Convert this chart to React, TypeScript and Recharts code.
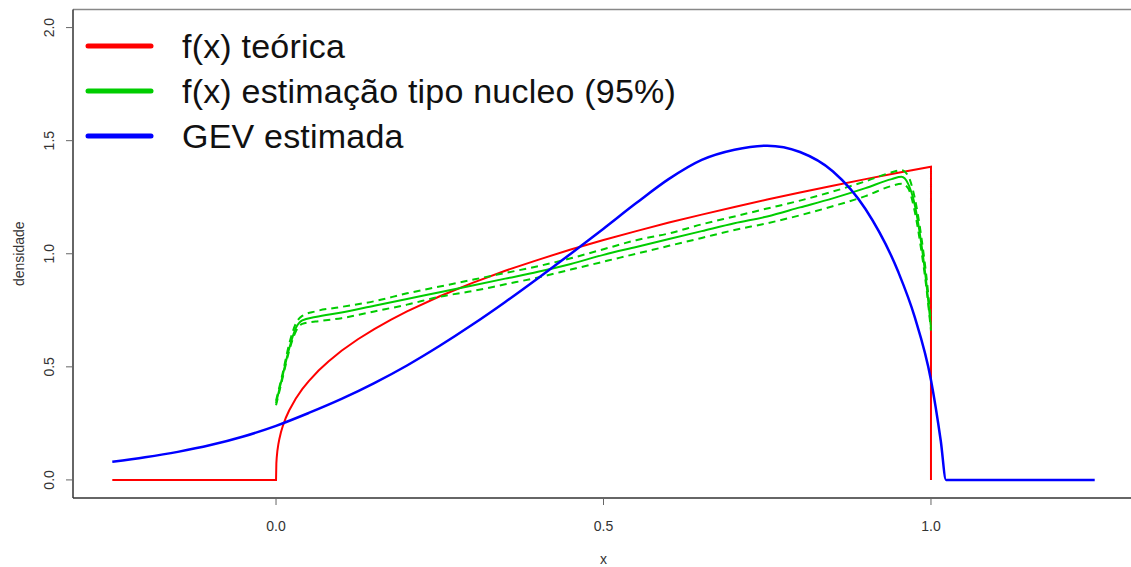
import React from 'react';
import { LineChart, Line, XAxis, YAxis, ReferenceLine } from 'recharts';

const FONT = '"Liberation Sans", Arial, Helvetica, sans-serif';

// axis ticks
const xTicks = [0, 0.5, 1];
const yTicks = [0, 0.5, 1, 1.5, 2];

// f(x) teórica (jumps at 0 and 1)
const teoricaX = [
  -0.25, 0, 0.0005, 0.001, 0.002, 0.0035, 0.005, 0.0075, 0.01, 0.015, 0.02, 0.03, 0.04, 0.05, 0.065, 0.08,
  0.1, 0.125, 0.15, 0.175, 0.2, 0.25, 0.3, 0.35, 0.4, 0.45, 0.5, 0.55, 0.6, 0.65, 0.7, 0.75, 0.8, 0.85,
  0.9, 0.95, 1.0, 1.0,
];
const teoricaY = [
  0, 0, 0.074, 0.097, 0.127, 0.157, 0.18, 0.211, 0.235, 0.275, 0.307, 0.359, 0.401, 0.437, 0.484, 0.524,
  0.571, 0.622, 0.667, 0.708, 0.745, 0.812, 0.871, 0.925, 0.973, 1.019, 1.061, 1.1, 1.138, 1.173, 1.207, 1.24, 1.271, 1.301,
  1.33, 1.358, 1.385, 0,
];

// GEV estimada
const gevX = [
  -0.25, -0.2, -0.15, -0.1, -0.05, 0, 0.05, 0.1, 0.15, 0.2, 0.25, 0.3, 0.35, 0.4, 0.45, 0.5, 0.55, 0.6,
  0.65, 0.7, 0.75, 0.8, 0.85, 0.9, 0.95, 0.975, 1.0, 1.015, 1.023, 1.25,
];
const gevY = [
  0.08, 0.1, 0.124, 0.154, 0.192, 0.239, 0.296, 0.358, 0.428, 0.506, 0.593, 0.687, 0.787, 0.892, 1.0, 1.111, 1.224, 1.331,
  1.415, 1.46, 1.478, 1.45, 1.365, 1.198, 0.92, 0.722, 0.442, 0.172, 0, 0,
];

// estimação tipo núcleo + banda de 95%
const kernelX = [0, 0.01, 0.02, 0.03, 0.04, 0.06, 0.1, 0.15, 0.2, 0.25, 0.3, 0.35, 0.4, 0.45, 0.5, 0.55, 0.6, 0.65, 0.7, 0.75, 0.8, 0.85, 0.9, 0.94, 0.955, 0.965, 0.975, 0.985, 0.993, 1.0];
const kernelY = [0.34, 0.46, 0.58, 0.67, 0.705, 0.72, 0.74, 0.77, 0.8, 0.83, 0.86, 0.89, 0.92, 0.955, 0.995, 1.03, 1.065, 1.1, 1.135, 1.165, 1.205, 1.245, 1.29, 1.33, 1.34, 1.31, 1.22, 1.05, 0.87, 0.675];
const kernelUpper = [0.35, 0.47, 0.6, 0.69, 0.725, 0.745, 0.765, 0.79, 0.825, 0.855, 0.885, 0.915, 0.945, 0.98, 1.02, 1.06, 1.09, 1.13, 1.165, 1.2, 1.235, 1.275, 1.32, 1.36, 1.37, 1.345, 1.25, 1.08, 0.9, 0.7];
const kernelLower = [0.33, 0.45, 0.57, 0.655, 0.69, 0.7, 0.715, 0.745, 0.775, 0.81, 0.835, 0.865, 0.895, 0.93, 0.965, 1.0, 1.035, 1.07, 1.105, 1.135, 1.17, 1.21, 1.255, 1.3, 1.31, 1.29, 1.19, 1.02, 0.85, 0.66];

const toPoints = (xs: number[], ys: number[]) => xs.map((x, i) => ({ x, y: ys[i] }));

const teorica = toPoints(teoricaX, teoricaY);
const gev = toPoints(gevX, gevY);
const kernel = toPoints(kernelX, kernelY);
const upper = toPoints(kernelX, kernelUpper);
const lower = toPoints(kernelX, kernelLower);

const legendItems = [
  { label: 'f(x) teórica', color: '#ff0000' },
  { label: 'f(x) estimação tipo nucleo (95%)', color: '#00cd00' },
  { label: 'GEV estimada', color: '#0000ff' },
];

const XTick = (props: any) => {
  const { x, payload } = props;
  return (
    <text x={x} y={531} textAnchor="middle" fontSize={14} fontFamily={FONT} fill="#333">
      {Number(payload.value).toFixed(1)}
    </text>
  );
};

const YTick = (props: any) => {
  const { y, payload } = props;
  return (
    <text
      transform={`translate(54, ${y}) rotate(-90)`}
      textAnchor="middle"
      fontSize={14}
      fontFamily={FONT}
      fill="#333"
    >
      {Number(payload.value).toFixed(1)}
    </text>
  );
};

export default function App() {
  return (
    <div
      style={{
        position: 'fixed',
        left: 0,
        top: 0,
        width: 1131,
        height: 567,
        overflow: 'hidden',
        background: '#fff',
      }}
    >
      <LineChart width={1140} height={567} margin={{ top: 9.5, right: 6, bottom: 9, left: 0 }}>
        <XAxis
          type="number"
          dataKey="x"
          domain={[-0.31, 1.31]}
          allowDataOverflow
          ticks={xTicks}
          tick={<XTick />}
          tickSize={7}
          tickLine={{ stroke: '#666' }}
          axisLine={{ stroke: '#333', strokeWidth: 1.5 }}
          height={60}
        />
        <YAxis
          type="number"
          dataKey="y"
          domain={[-0.08, 2.08]}
          allowDataOverflow
          ticks={yTicks}
          tick={<YTick />}
          tickSize={7}
          tickLine={{ stroke: '#666' }}
          axisLine={{ stroke: '#333', strokeWidth: 1.5 }}
          width={73}
        />
        <ReferenceLine y={2.08} stroke="#888" strokeWidth={1.5} ifOverflow="visible" />
        <Line data={teorica} dataKey="y" stroke="#ff0000" strokeWidth={2} dot={false} activeDot={false} isAnimationActive={false} />
        <Line data={kernel} type="monotone" dataKey="y" stroke="#00cd00" strokeWidth={2} dot={false} activeDot={false} isAnimationActive={false} />
        <Line data={upper} type="monotone" dataKey="y" stroke="#00cd00" strokeWidth={2} strokeDasharray="7 5" dot={false} activeDot={false} isAnimationActive={false} />
        <Line data={lower} type="monotone" dataKey="y" stroke="#00cd00" strokeWidth={2} strokeDasharray="7 5" dot={false} activeDot={false} isAnimationActive={false} />
        <Line data={gev} type="monotone" dataKey="y" stroke="#0000ff" strokeWidth={2.5} dot={false} activeDot={false} isAnimationActive={false} />
      </LineChart>

      {/* legend and axis titles */}
      <svg
        width={1131}
        height={567}
        style={{ position: 'absolute', left: 0, top: 0, pointerEvents: 'none' }}
        fontFamily={FONT}
      >
        {legendItems.map((item, i) => {
          const cy = 46 + i * 45;
          return (
            <g key={item.label}>
              <line x1={88} x2={151} y1={cy} y2={cy} stroke={item.color} strokeWidth={5} strokeLinecap="round" />
              <text x={182} y={cy + 12} fontSize={34} letterSpacing={0.2} fill="#111">
                {item.label}
              </text>
            </g>
          );
        })}
        <text x={603.5} y={564} textAnchor="middle" fontSize={14} fill="#333">
          x
        </text>
        <text transform="translate(24, 253.7) rotate(-90)" textAnchor="middle" fontSize={14} fill="#333">
          densidade
        </text>
      </svg>
    </div>
  );
}
